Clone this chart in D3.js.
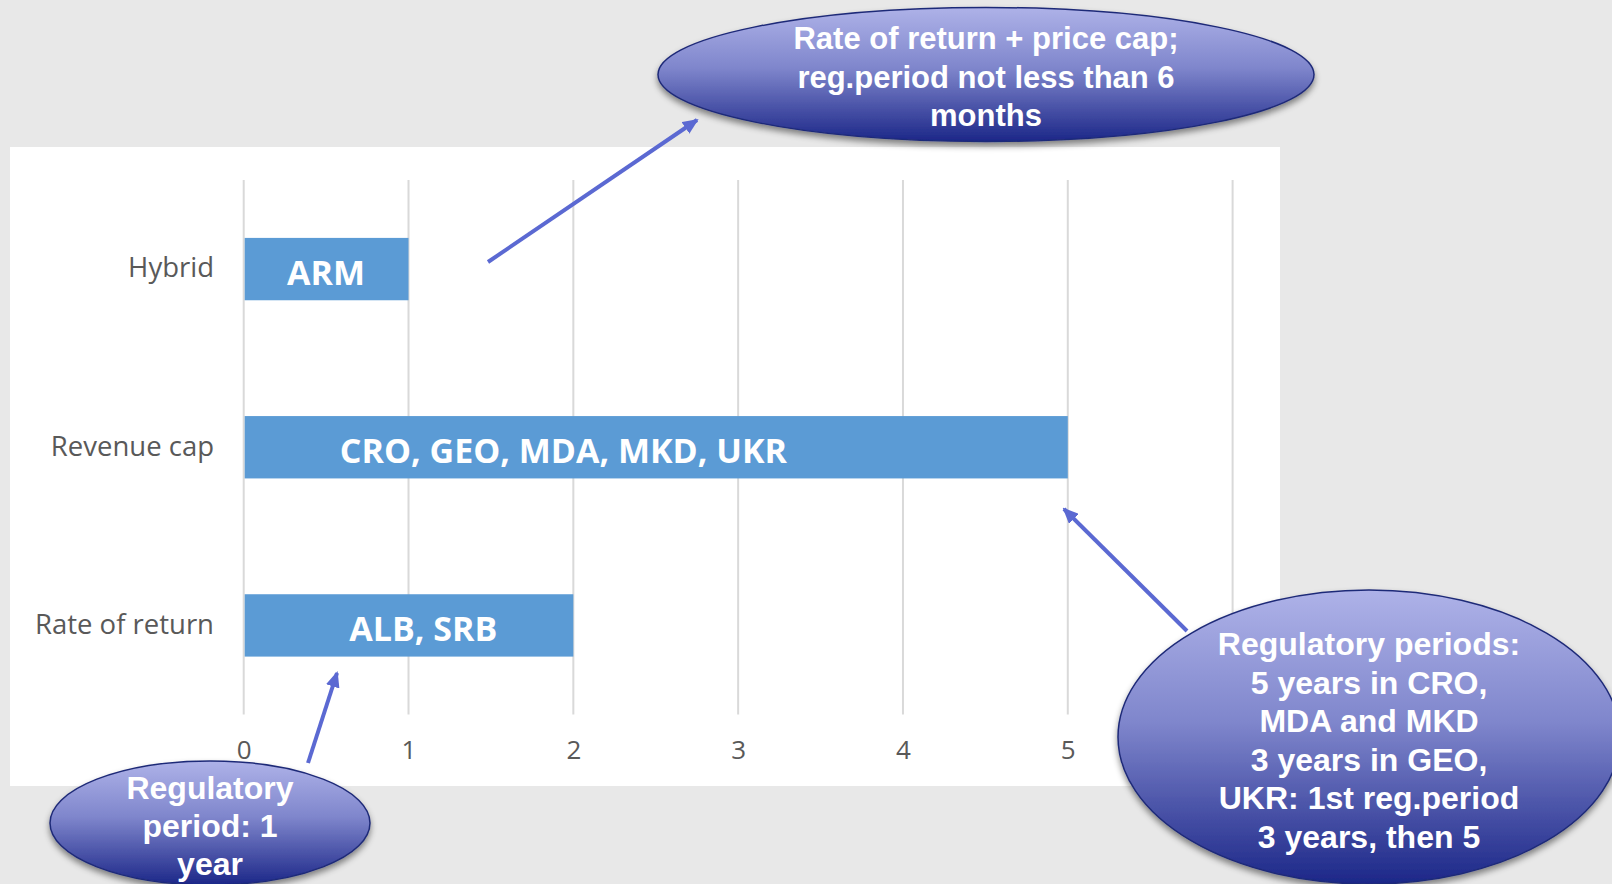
<!DOCTYPE html>
<html>
<head>
<meta charset="utf-8">
<script src="https://cdn.jsdelivr.net/npm/d3@7"></script>
<style>
  html, body { margin: 0; padding: 0; background: #e8e8e8; }
  svg { display: block; }
</style>
</head>
<body>
<div id="chart"></div>
<script>
// chart data
var categories = ["Hybrid", "Revenue cap", "Rate of return"];
var years = [1, 5, 2];
var barLabels = ["ARM", "CRO, GEO, MDA, MKD, UKR", "ALB, SRB"];
var labelAt = [0.5, 1.94, 1.09];   // where the label sits, in years
var xTicks = [0, 1, 2, 3, 4, 5, 6];

// callout texts
var topNote = ["Rate of return + price cap;", "reg.period not less than 6", "months"];
var leftNote = ["Regulatory", "period: 1", "year"];
var rightNote = ["Regulatory periods:", "5 years in CRO,", "MDA and MKD", "3 years in GEO,",
                 "UKR: 1st reg.period", "3 years, then 5"];

var width = 1612, height = 884;

var svg = d3.select("#chart").append("svg")
  .attr("width", width)
  .attr("height", height);

var defs = svg.append("defs");

var grad = defs.append("linearGradient")
  .attr("id", "bubble")
  .attr("x1", 0).attr("y1", 0).attr("x2", 0).attr("y2", 1);
grad.append("stop").attr("offset", "0%").attr("stop-color", "#aeb2e8");
grad.append("stop").attr("offset", "45%").attr("stop-color", "#7f86cc");
grad.append("stop").attr("offset", "100%").attr("stop-color", "#1c2788");

var shadow = defs.append("filter")
  .attr("id", "shadow")
  .attr("x", "-10%").attr("y", "-10%").attr("width", "120%").attr("height", "130%");
shadow.append("feDropShadow")
  .attr("dx", 0).attr("dy", 4)
  .attr("stdDeviation", 3)
  .attr("flood-color", "#000")
  .attr("flood-opacity", 0.45);

defs.append("marker")
  .attr("id", "head")
  .attr("markerUnits", "userSpaceOnUse")
  .attr("viewBox", "0 0 16 14")
  .attr("refX", 14).attr("refY", 7)
  .attr("markerWidth", 16).attr("markerHeight", 14)
  .attr("orient", "auto")
  .append("path")
  .attr("d", "M0,0 L16,7 L0,14 Z")
  .attr("fill", "#5b69d2");

// background
svg.append("rect")
  .attr("width", width).attr("height", height)
  .attr("fill", "#e8e8e8");

// white chart area
svg.append("rect")
  .attr("x", 10).attr("y", 147)
  .attr("width", 1270).attr("height", 639)
  .attr("fill", "#ffffff");

var x = d3.scaleLinear().domain([0, 6]).range([243.7, 1232.6]);
var y = d3.scaleBand().domain(categories)
  .range([180, 714.5])
  .paddingInner(0.65)
  .paddingOuter(0.325);

// gridlines
svg.append("g").selectAll("line")
  .data(xTicks)
  .enter().append("line")
  .attr("x1", function(d) { return x(d); })
  .attr("x2", function(d) { return x(d); })
  .attr("y1", 180)
  .attr("y2", 714.5)
  .attr("stroke", "#d9d9d9")
  .attr("stroke-width", 2);

// x axis labels
var xAxis = d3.axisBottom(x).tickValues(xTicks).tickFormat(d3.format("d")).tickSize(0).tickPadding(0);
var gx = svg.append("g")
  .attr("transform", "translate(0,741)")
  .call(xAxis);
gx.select(".domain").remove();
gx.selectAll("text")
  .attr("dy", "0.71em")
  .style("font-family", "'Open Sans', sans-serif")
  .style("font-size", "26px")
  .attr("fill", "#595959");

// y axis labels
var yAxis = d3.axisLeft(y).tickSize(0).tickPadding(0);
var gy = svg.append("g")
  .attr("transform", "translate(214,0)")
  .call(yAxis);
gy.select(".domain").remove();
gy.selectAll("text")
  .attr("dy", "0.3em")
  .style("font-family", "'Open Sans', sans-serif")
  .style("font-size", "27.5px")
  .attr("fill", "#595959");

// bars
svg.append("g").selectAll("rect")
  .data(years)
  .enter().append("rect")
  .attr("x", x(0) + 1)
  .attr("y", function(d, i) { return y(categories[i]); })
  .attr("width", function(d) { return x(d) - x(0) - 1; })
  .attr("height", y.bandwidth())
  .attr("fill", "#5b9bd5");

// bar labels
svg.append("g").selectAll("text")
  .data(barLabels)
  .enter().append("text")
  .attr("x", function(d, i) { return x(labelAt[i]); })
  .attr("y", function(d, i) { return y(categories[i]) + y.bandwidth() / 2; })
  .attr("dy", "0.47em")
  .attr("text-anchor", "middle")
  .style("font-family", "'Open Sans', sans-serif")
  .style("font-weight", 700)
  .style("font-size", "34px")
  .attr("fill", "#ffffff")
  .text(function(d) { return d; });

// arrows
var arrows = [
  [488, 262, 697, 120],
  [308, 763, 337, 673],
  [1187, 631, 1064, 509]
];
svg.append("g").selectAll("line")
  .data(arrows)
  .enter().append("line")
  .attr("x1", function(d) { return d[0]; })
  .attr("y1", function(d) { return d[1]; })
  .attr("x2", function(d) { return d[2]; })
  .attr("y2", function(d) { return d[3]; })
  .attr("stroke", "#5b69d2")
  .attr("stroke-width", 4)
  .attr("marker-end", "url(#head)");

// callout bubbles
function bubble(cx, cy, rx, ry, lines, firstY, step, size) {
  var g = svg.append("g");
  g.append("ellipse")
    .attr("cx", cx).attr("cy", cy)
    .attr("rx", rx).attr("ry", ry)
    .attr("fill", "url(#bubble)")
    .attr("stroke", "#1f2a78")
    .attr("stroke-width", 1.5)
    .attr("filter", "url(#shadow)");
  g.selectAll("text")
    .data(lines)
    .enter().append("text")
    .attr("x", cx)
    .attr("y", function(d, i) { return firstY + i * step; })
    .attr("dy", "0.36em")
    .attr("text-anchor", "middle")
    .style("font-family", "'Liberation Sans', Arial, sans-serif")
    .style("font-weight", 700)
    .style("font-size", size + "px")
    .attr("fill", "#ffffff")
    .text(function(d) { return d; });
}

bubble(986, 74.5, 328, 67, topNote, 38, 38.5, 31);
bubble(210, 823, 160, 62, leftNote, 787.5, 38.2, 32);
bubble(1369, 737, 251, 147, rightNote, 643.5, 38.5, 32);
</script>
</body>
</html>
